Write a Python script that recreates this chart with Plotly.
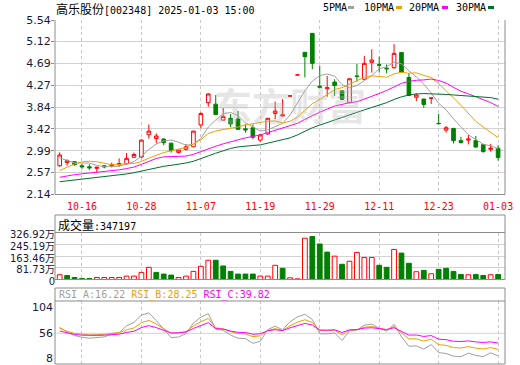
import plotly.graph_objects as go

# ---------------- data ----------------
dates = ["10-11", "10-14", "10-15", "10-16", "10-17", "10-18", "10-21", "10-22", "10-23", "10-24",
         "10-25", "10-28", "10-29", "10-30", "10-31", "11-01", "11-04", "11-05", "11-06", "11-07",
         "11-08", "11-11", "11-12", "11-13", "11-14", "11-15", "11-18", "11-19", "11-20", "11-21",
         "11-22", "11-25", "11-26", "11-27", "11-28", "11-29", "12-02", "12-03", "12-04", "12-05",
         "12-06", "12-09", "12-10", "12-11", "12-12", "12-13", "12-16", "12-17", "12-18", "12-19",
         "12-20", "12-23", "12-24", "12-25", "12-26", "12-27", "12-30", "12-31", "01-02", "01-03"]

opens = [2.70, 2.76, 2.78, 2.70, 2.68, 2.65, 2.70, 2.70, 2.72, 2.74,
         2.865, 2.87, 3.305, 3.23, 3.22, 3.14, 2.96, 3.02, 3.07, 3.495,
         3.93, 3.90, 3.59, 3.625, 3.61, 3.42, 3.44, 3.20, 3.32, 3.72,
         3.67, 4.06, 4.47, 4.91, 5.28, 4.25, 4.20, 4.33, 4.16, 3.93,
         4.45, 4.385, 4.715, 4.67, 4.60, 4.61, 4.905, 4.42, 4.035, 4.00,
         4.015, 3.525, 3.395, 3.425, 3.19, 3.20, 3.19, 3.11, 3.02, 3.04]
highs = [2.96, 2.825, 2.79, 2.73, 2.73, 2.68, 2.71, 2.76, 2.845, 2.95,
         2.955, 3.215, 3.505, 3.33, 3.235, 3.15, 3.01, 3.125, 3.38, 3.74,
         4.11, 4.08, 3.825, 3.71, 3.77, 3.505, 3.505, 3.32, 3.63, 3.95,
         4.00, 4.06, 4.47, 4.91, 5.28, 4.65, 4.45, 4.385, 4.16, 4.40,
         4.685, 4.84, 4.97, 4.825, 4.675, 5.07, 4.915, 4.50, 4.11, 4.00,
         4.02, 3.71, 3.475, 3.44, 3.265, 3.30, 3.28, 3.125, 3.125, 3.10]
lows = [2.68, 2.70, 2.70, 2.64, 2.62, 2.565, 2.65, 2.67, 2.68, 2.72,
        2.86, 2.85, 3.23, 3.14, 3.10, 2.955, 2.94, 3.00, 3.065, 3.43,
        3.85, 3.69, 3.59, 3.45, 3.395, 3.345, 3.215, 3.17, 3.30, 3.605,
        3.66, 4.06, 4.47, 4.42, 4.58, 4.22, 4.045, 4.06, 3.98, 3.92,
        4.34, 4.37, 4.515, 4.515, 4.50, 4.59, 4.52, 4.06, 3.96, 3.83,
        3.905, 3.52, 3.345, 3.135, 3.135, 3.115, 3.05, 2.955, 2.975, 2.80]
closes = [2.91, 2.80, 2.72, 2.68, 2.66, 2.67, 2.68, 2.72, 2.74, 2.845,
          2.92, 3.20, 3.375, 3.28, 3.15, 2.995, 3.005, 3.07, 3.375, 3.72,
          4.10, 3.70, 3.66, 3.515, 3.41, 3.40, 3.255, 3.30, 3.625, 3.765,
          3.69, 4.06, 4.47, 4.825, 4.695, 4.23, 4.22, 4.265, 3.995, 4.395,
          4.44, 4.695, 4.76, 4.66, 4.59, 4.89, 4.525, 4.07, 4.08, 3.895,
          4.02, 3.52, 3.44, 3.19, 3.15, 3.22, 3.065, 2.975, 3.04, 2.86]
# volume in 万手
volumes = [32.9, 28.2, 14.1, 7.1, 7.1, 14.1, 14.1, 14.1, 14.1, 23.5,
           23.5, 49.4, 84.7, 49.4, 37.6, 30.6, 14.1, 23.5, 56.4, 91.7,
           134.1, 134.1, 94.1, 56.4, 37.6, 37.6, 37.6, 23.5, 23.5, 98.8,
           78.0, 11.8, 4.7, 287.0, 298.7, 247.0, 190.5, 162.3, 105.8, 127.0,
           188.2, 152.9, 152.9, 98.8, 84.7, 209.3, 183.5, 112.9, 54.1, 63.5,
           40.0, 70.6, 77.6, 56.4, 35.3, 32.9, 35.3, 28.2, 32.9, 34.72]
# closes of the 29 sessions before 10-11 (estimated from where the MA lines start)
prior_closes = [2.30, 2.28, 2.25, 2.22, 2.20, 2.18, 2.17, 2.18, 2.20, 2.19,
                2.22, 2.28, 2.35, 2.40, 2.42, 2.38, 2.35, 2.36, 2.35, 2.33,
                2.14, 2.08, 2.29, 2.52, 2.77, 3.05, 2.95, 2.70, 2.65]

price_ticks = [2.14, 2.57, 2.99, 3.42, 3.84, 4.27, 4.69, 5.12, 5.54]
vol_ticks = [0, 81.73, 163.46, 245.19, 326.92]
vol_tick_text = ["0", "81.73万", "163.46万", "245.19万", "326.92万"]
rsi_ticks = [104, 56, 8]
date_tick_idx = [3, 11, 19, 27, 35, 43, 51, 59]
ma_periods = [5, 10, 20, 30]
ma_names = ["5PMA", "10PMA", "20PMA", "30PMA"]
rsi_periods = [6, 12, 24]
rsi_names = ["RSI_A", "RSI_B", "RSI_C"]
rsi_last = ["16.22", "28.25", "39.82"]
stock_name = "高乐股份"
title_rest = "[002348] 2025-01-03 15:00"
vol_label = "成交量"
last_volume = "347197"

# ---------------- styles ----------------
W, H = 520, 365
RED = "#ff0000"
GREEN = "#008000"
MA_COLORS = ["#a0a0a0", "#f0a000", "#ff00ff", "#006e2e"]
RSI_COLORS = ["#a0a0a0", "#f0a000", "#ff00ff"]
GRID = "#d2d2d2"
VGRID = "#c8c8c8"
BORDER = "#8c8c8c"
MONO = "DejaVu Sans Mono"
CJK = "Noto Sans CJK SC"
NUM = "DejaVu Sans, Noto Sans CJK SC"
LBL = "#1a1a38"

X0, X1 = 55, 505
MAIN = (20, 194.5)
VOLBOX = (215, 279.5)
VOLPLOT = (232.5, 279.5)
RSIBOX = (288, 364)
RSIPLOT = (301, 364)
RSI_LABEL_Y = [307, 333.3, 358]   # where the reference prints the RSI scale labels


def px(x):
    return x / W


def py(y):
    return 1 - y / H


# ---------------- derived series ----------------
allc = prior_closes + closes
n0 = len(prior_closes)


def moving_average(n):
    return [sum(allc[n0 + i - n + 1:n0 + i + 1]) / n for i in range(len(closes))]


def rsi(n):
    up = dn = None
    out = []
    for j in range(1, len(allc)):
        d = allc[j] - allc[j - 1]
        u, a = max(d, 0.0), abs(d)
        if up is None:
            up, dn = u, a
        else:
            up = (u + (n - 1) * up) / n
            dn = (a + (n - 1) * dn) / n
        if j >= n0:
            out.append(100 * up / dn if dn else 50.0)
    return out


prev_close = allc[n0 - 1:n0 - 1 + len(closes)]
vol_up = [c >= p for c, p in zip(closes, prev_close)]

fig = go.Figure()
fig.add_trace(go.Candlestick(
    x=dates, open=opens, high=highs, low=lows, close=closes,
    increasing=dict(line=dict(color=RED, width=1), fillcolor="white"),
    decreasing=dict(line=dict(color=GREEN, width=1), fillcolor=GREEN),
    whiskerwidth=0, xaxis="x", yaxis="y", hoverinfo="skip"))
for n, col in zip(ma_periods, MA_COLORS):
    fig.add_trace(go.Scatter(x=dates, y=moving_average(n), mode="lines",
                             line=dict(color=col, width=1), xaxis="x", yaxis="y",
                             hoverinfo="skip"))
fig.add_trace(go.Bar(
    x=dates, y=volumes, width=0.64,
    marker=dict(color=["white" if u else GREEN for u in vol_up],
                line=dict(color=[RED if u else GREEN for u in vol_up], width=1)),
    xaxis="x2", yaxis="y2", hoverinfo="skip"))
for n, col in zip(rsi_periods, RSI_COLORS):
    fig.add_trace(go.Scatter(x=dates, y=rsi(n), mode="lines",
                             line=dict(color=col, width=1), xaxis="x3", yaxis="y3",
                             hoverinfo="skip"))

xdom = [px(X0), px(X1)]
xrange = [-0.63, len(dates) - 1 + 0.93]
tickv = [dates[i] for i in date_tick_idx]
xcommon = dict(domain=xdom, type="category", range=xrange, tickvals=tickv,
               showgrid=True, gridcolor=VGRID, griddash="3px,3px", gridwidth=1,
               zeroline=False, showline=False, ticks="", fixedrange=True, automargin=False)

rsi_scale = 0.62  # px per RSI unit
rsi_mid_y = 333.3
rsi_range = [56 - (RSIPLOT[1] - rsi_mid_y) / rsi_scale, 56 + (rsi_mid_y - RSIPLOT[0]) / rsi_scale]

fig.update_layout(
    width=W, height=H, margin=dict(l=0, r=0, t=0, b=0, pad=0, autoexpand=False),
    autosize=False,
    paper_bgcolor="white", plot_bgcolor="white", showlegend=False,
    font=dict(family=NUM, size=11, color=LBL),
    xaxis=dict(**xcommon, anchor="y", rangeslider=dict(visible=False),
               showticklabels=True, tickfont=dict(family=MONO, size=10, color=RED),
               ticklabelstandoff=4),
    xaxis2=dict(**xcommon, anchor="y2", matches="x", showticklabels=False),
    xaxis3=dict(**xcommon, anchor="y3", matches="x", showticklabels=False),
    yaxis=dict(domain=[py(MAIN[1]), py(MAIN[0])], range=[price_ticks[0], price_ticks[-1]],
               tickvals=price_ticks, ticktext=["%.2f" % t for t in price_ticks],
               showgrid=True, gridcolor=GRID, zeroline=False, ticks="outside", ticklen=3,
               tickcolor=BORDER, tickfont=dict(family=NUM, size=11, color=LBL),
               ticklabelstandoff=-2, fixedrange=True, automargin=False),
    yaxis2=dict(domain=[py(VOLPLOT[1]), py(VOLPLOT[0])], range=[vol_ticks[0], vol_ticks[-1]],
                tickvals=vol_ticks, ticktext=vol_tick_text, showgrid=True, gridcolor=GRID,
                zeroline=False, ticks="", ticklabelshift=2, ticklabelstandoff=-1,
                tickfont=dict(family=NUM, size=10, color=LBL), fixedrange=True, automargin=False),
    yaxis3=dict(domain=[py(RSIPLOT[1]), py(RSIPLOT[0])], range=rsi_range,
                showticklabels=False, showgrid=False, zeroline=False, ticks="",
                fixedrange=True, automargin=False),
)

shapes = []


def hline(y, x0=X0, x1=X1, color=BORDER):
    shapes.append(dict(type="line", xref="paper", yref="paper", x0=px(x0), x1=px(x1),
                       y0=py(y), y1=py(y), line=dict(color=color, width=1)))


def vline(x, y0, y1, color=BORDER):
    shapes.append(dict(type="line", xref="paper", yref="paper", x0=px(x), x1=px(x),
                       y0=py(y0), y1=py(y1), line=dict(color=color, width=1)))


# main panel frame
vline(X0, MAIN[0], MAIN[1])
vline(X1, MAIN[0], MAIN[1])
hline(MAIN[1])
# volume panel frame
for y in (VOLBOX[0], VOLPLOT[0], VOLBOX[1]):
    hline(y)
vline(X0, VOLBOX[0], VOLBOX[1])
vline(X1, VOLBOX[0], VOLBOX[1])
# rsi panel frame
for y in (RSIBOX[0], RSIPLOT[0], RSIBOX[1]):
    hline(y)
vline(X0, RSIBOX[0], RSIBOX[1])
vline(X1, RSIBOX[0], RSIBOX[1])
# RSI 56 line
shapes.append(dict(type="line", xref="paper", yref="y3", x0=px(X0), x1=px(X1), y0=56, y1=56,
                   line=dict(color=GRID, width=1), layer="below"))

# MA legend swatches
legend_x = [322, 363, 408, 455]
legend_sw = [348, 396, 442, 488]
for sx, col in zip(legend_sw, MA_COLORS):
    shapes.append(dict(type="rect", xref="paper", yref="paper", x0=px(sx), x1=px(sx + 6),
                       y0=py(9), y1=py(6), fillcolor=col, line=dict(width=0)))
fig.update_layout(shapes=shapes)

ann = []
ann.append(dict(xref="paper", yref="paper", x=px(54), y=py(8), xanchor="left", yanchor="middle",
                showarrow=False, font=dict(family=MONO, size=10, color="black"),
                text='<span style="font-family:%s;font-size:12px">%s</span>%s' % (CJK, stock_name, title_rest)))
for lx, name in zip(legend_x, ma_names):
    ann.append(dict(xref="paper", yref="paper", x=px(lx - 1), y=py(7.5), xanchor="left",
                    yanchor="middle", showarrow=False,
                    font=dict(family=MONO, size=10, color="black"), text=name))
ann.append(dict(xref="paper", yref="paper", x=px(56), y=py(224), xanchor="left", yanchor="middle",
                showarrow=False, font=dict(family=MONO, size=10, color="black"),
                text='<span style="font-family:%s;font-size:12px">%s</span>:%s' % (CJK, vol_label, last_volume)))
rsi_txt = " ".join('<span style="color:%s">%s:%s</span>' % (c, n, v)
                   for c, n, v in zip(RSI_COLORS, rsi_names, rsi_last))
ann.append(dict(xref="paper", yref="paper", x=px(57), y=py(295), xanchor="left", yanchor="middle",
                showarrow=False, font=dict(family=MONO, size=10), text=rsi_txt))
# RSI scale labels
for v, ly in zip(rsi_ticks, RSI_LABEL_Y):
    ann.append(dict(xref="paper", yref="paper", x=px(53.5), y=py(ly), xanchor="right",
                    yanchor="middle", showarrow=False, borderpad=0,
                    font=dict(family=NUM, size=11, color=LBL), text=str(v)))
# watermark
ann.append(dict(xref="paper", yref="paper", x=px(290), y=py(104), xanchor="center", yanchor="middle",
                showarrow=False, font=dict(family=CJK, size=38, color="rgba(185,185,185,0.35)"),
                text="<b>东方财富</b>"))
fig.update_layout(annotations=ann)

fig.write_html("out.html")
